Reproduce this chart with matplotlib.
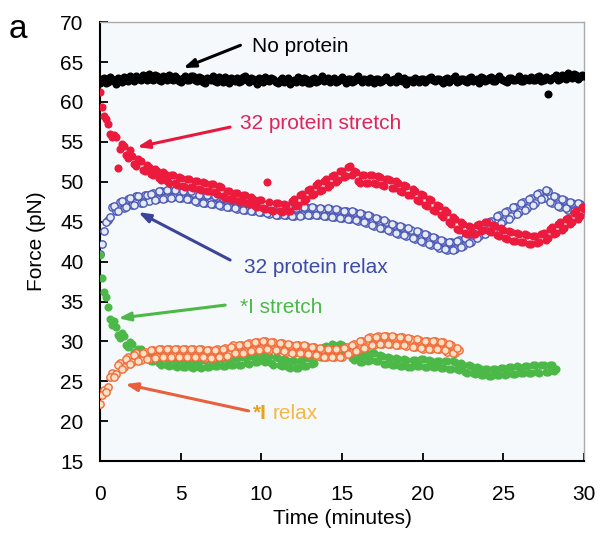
import numpy as np
import matplotlib
matplotlib.use("Agg")
import matplotlib.pyplot as plt

plt.rcParams['font.family'] = ['Liberation Sans', 'DejaVu Sans']

# readings every 0.25 min (starting at 0) and the in-between readings
# (starting at 0.125)
no_protein = [
    62.4, 63.0, 62.5, 62.9, 62.3, 62.8, 63.1, 62.6, 62.9, 63.3, 62.7, 63.2,
    63.5, 62.8, 63.2, 62.6, 63.1, 63.4, 62.7, 63.0, 62.5, 63.2, 62.8, 63.3,
    62.6, 63.0, 62.4, 62.9, 63.2, 62.5, 62.8, 63.1, 62.4, 62.9, 63.0, 62.6,
    63.2, 62.5, 62.9, 62.3, 62.8, 63.1, 62.6, 62.9, 62.4, 63.0, 62.7, 62.2,
    62.8, 63.1, 62.5, 62.9, 62.4, 63.0, 62.6, 63.2, 62.7, 62.5, 63.0, 62.6,
    63.1, 62.4, 62.9, 62.6, 63.2, 62.5, 62.8, 63.0, 62.4, 62.9, 62.6, 63.1,
    62.5, 62.9, 63.2, 62.6, 62.3, 62.8, 63.0, 62.5, 62.9, 62.7, 63.1, 62.6,
    62.9, 62.4, 63.0, 62.7, 63.2, 62.6, 62.9, 62.5, 63.1, 62.8, 62.4, 63.0,
    62.7, 63.1, 62.6, 63.3, 62.8, 62.5, 63.0, 62.7, 63.2, 62.6, 62.9, 63.1,
    62.8, 63.3, 62.7, 61.0, 63.0, 63.4, 62.9, 63.2, 63.6, 63.0, 63.4, 63.1,
    63.3]
no_protein_mid = [
    62.9, 62.4, 63.1, 62.6, 63.0, 62.5, 62.8, 63.2, 62.6, 62.9, 63.4, 62.8,
    62.9, 63.4, 62.7, 63.3, 62.8, 62.9, 63.3, 62.6, 63.0, 62.7, 63.2, 62.7,
    63.1, 62.5, 63.0, 62.7, 62.6, 63.1, 62.5, 62.7, 63.0, 62.6, 62.5, 63.1,
    62.7, 63.0, 62.6, 63.0, 62.5, 62.7, 63.0, 62.5, 62.8, 62.5, 63.0, 62.6,
    62.5, 62.7, 63.0, 62.4, 62.9, 62.5, 62.9, 62.6, 63.0, 62.8, 62.5, 62.9,
    62.7, 62.9, 62.5, 63.0, 62.7, 62.9, 62.5, 62.7, 62.9, 62.5, 62.9, 62.7,
    62.8, 62.5, 62.8, 63.0, 62.7, 62.5, 62.7, 62.9, 62.5, 63.0, 62.7, 62.9,
    62.6, 62.9, 62.5, 63.0, 62.5, 62.9, 62.6, 63.0, 62.6, 62.9, 63.1, 62.6,
    63.0, 62.6, 63.0, 62.9, 62.6, 63.0, 62.8, 62.9, 62.6, 63.0, 62.7, 62.8,
    63.1, 62.6, 63.1, 62.8, 63.1, 62.8, 63.4, 62.9, 63.2, 63.5, 62.9, 63.4]

p32_stretch = [
    61.2, 58.3, 57.2, 55.6, 55.6, 54.1, 54.5, 53.0, 53.2, 52.0, 52.6, 51.4,
    51.9, 50.8, 51.4, 50.2, 51.0, 49.9, 50.8, 49.6, 50.5, 49.4, 50.3, 49.2,
    50.1, 49.0, 49.8, 48.9, 49.7, 48.5, 49.3, 48.0, 48.8, 47.7, 48.6, 47.5,
    48.3, 47.2, 47.9, 46.8, 47.7, 46.6, 47.5, 46.4, 47.3, 46.2, 47.1, 46.3,
    47.8, 47.1, 48.5, 47.8, 49.1, 48.5, 49.8, 49.0, 50.3, 49.6, 50.9, 50.2,
    51.4, 50.7, 52.0, 51.3, 50.1, 50.9, 49.9, 50.8, 49.8, 50.7, 49.6, 50.4,
    50.2, 49.2, 49.9, 48.7, 49.5, 48.3, 48.9, 47.6, 48.3, 47.0, 47.7, 46.3,
    47.0, 45.6, 46.2, 44.7, 45.3, 44.0, 44.7, 43.5, 44.3, 43.4, 44.7, 43.9,
    45.0, 43.7, 44.5, 43.2, 44.0, 42.8, 43.7, 42.6, 43.5, 42.4, 43.3, 42.2,
    43.2, 42.4, 43.6, 42.9, 44.3, 43.6, 44.9, 44.2, 45.5, 44.9, 46.3, 45.7,
    46.6]
p32_stretch_mid = [
    59.4, 57.9, 56.0, 55.9, 51.7, 54.7, 53.3, 54.0, 52.2, 52.8, 51.5, 52.1,
    51.0, 51.6, 50.5, 51.2, 50.1, 50.8, 49.8, 50.6, 49.5, 50.3, 49.3, 50.1,
    49.1, 50.0, 48.9, 49.7, 48.7, 49.5, 48.2, 48.9, 47.8, 48.6, 47.6, 48.4,
    47.3, 48.1, 47.0, 47.7, 46.7, 50.0, 46.5, 47.4, 46.3, 47.2, 46.4, 47.6,
    47.0, 48.3, 47.6, 49.0, 48.3, 49.6, 48.9, 50.1, 49.4, 50.7, 50.0, 51.3,
    50.6, 51.9, 50.8, 51.2, 49.9, 50.9, 49.8, 50.8, 49.7, 50.6, 49.5, 50.3,
    49.2, 50.1, 48.8, 49.6, 48.3, 49.1, 47.7, 48.5, 47.1, 47.8, 46.5, 47.1,
    45.8, 46.5, 44.9, 45.6, 44.1, 44.9, 43.6, 44.5, 43.4, 44.6, 43.8, 45.0,
    43.8, 44.6, 43.3, 44.2, 42.9, 43.8, 42.6, 43.6, 42.4, 43.4, 42.2, 43.2,
    42.3, 43.5, 42.7, 44.1, 43.5, 44.7, 44.0, 45.3, 44.7, 46.1, 45.4, 46.9]

p32_relax = [
    41.0, 43.8, 45.2, 46.8, 46.3, 47.5, 46.7, 47.9, 47.1, 48.2, 47.4, 48.3,
    47.6, 48.6, 47.8, 48.9, 48.0, 49.0, 48.1, 48.9, 48.0, 48.9, 47.8, 48.6,
    47.5, 48.4, 47.3, 48.3, 47.2, 48.1, 47.0, 47.9, 46.8, 47.7, 46.6, 47.5,
    46.5, 47.4, 46.3, 47.2, 46.2, 47.1, 46.0, 46.9, 45.9, 46.8, 45.8, 46.7,
    45.7, 46.7, 45.8, 46.8, 45.9, 46.7, 45.8, 46.6, 45.7, 46.6, 45.6, 46.5,
    45.5, 46.4, 45.3, 46.2, 45.1, 46.0, 44.8, 45.7, 44.5, 45.3, 44.2, 45.0,
    43.8, 44.6, 43.5, 44.3, 43.2, 44.0, 42.8, 43.7, 42.5, 43.3, 42.1, 42.9,
    41.7, 42.6, 41.5, 42.5, 41.6, 42.7, 42.0, 43.2, 42.5, 43.8, 43.2, 44.5,
    43.8, 45.1, 44.5, 45.8, 45.1, 46.4, 45.7, 46.9, 46.2, 47.5, 46.7, 48.0,
    47.3, 48.6, 48.0, 48.9, 47.3, 48.1, 46.9, 47.7, 46.5, 47.4, 46.3, 47.2,
    46.8]
p32_relax_mid = [
    42.2, 45.0, 45.6, 47.0, 46.4, 47.6, 46.8, 48.0, 47.1, 48.2, 47.3, 48.4,
    48.5, 47.7, 48.8, 47.9, 49.0, 48.0, 49.0, 48.0, 48.9, 47.9, 48.8, 47.6,
    48.4, 47.4, 48.3, 47.2, 48.2, 47.1, 48.0, 46.9, 47.8, 46.7, 47.6, 46.5,
    47.5, 46.4, 47.3, 46.2, 47.2, 46.1, 47.0, 45.9, 46.9, 45.8, 46.8, 45.7,
    46.7, 45.7, 46.8, 45.8, 46.8, 45.8, 46.7, 45.7, 46.7, 45.6, 46.6, 45.5,
    46.4, 45.4, 46.3, 45.2, 46.1, 44.9, 45.8, 44.6, 45.5, 44.2, 45.2, 43.9,
    44.7, 43.6, 44.5, 43.3, 44.2, 42.9, 43.8, 42.6, 43.5, 42.2, 43.1, 41.9,
    42.7, 41.6, 42.5, 41.5, 42.6, 41.8, 43.0, 42.3, 43.6, 42.9, 44.3, 43.5,
    45.0, 44.0, 45.7, 44.8, 46.2, 45.4, 46.8, 46.0, 47.3, 46.5, 47.9, 47.1,
    48.5, 47.8, 49.0, 47.5, 48.2, 47.0, 47.8, 46.7, 47.5, 46.4, 47.3, 46.3]

i_stretch = [
    40.8, 36.2, 34.3, 32.1, 31.8, 30.4, 30.7, 29.3, 29.7, 28.4, 29.0, 27.9,
    28.5, 27.5, 28.2, 27.1, 27.9, 26.9, 27.8, 26.8, 27.7, 26.8, 27.6, 26.7,
    27.6, 26.7, 27.7, 26.8, 27.7, 26.9, 27.8, 26.9, 27.8, 27.0, 27.9, 27.0,
    28.0, 27.2, 28.2, 27.4, 28.4, 27.4, 28.2, 27.1, 27.9, 26.9, 27.7, 26.7,
    27.5, 26.7, 27.7, 26.9, 27.9, 27.3, 28.6, 28.1, 29.4, 28.6, 29.6, 28.8,
    29.6, 28.6, 28.9, 27.7, 28.2, 27.4, 28.4, 27.7, 28.6, 27.6, 28.2, 27.2,
    27.9, 27.0, 27.8, 26.9, 27.7, 26.8, 27.7, 26.9, 27.8, 26.8, 27.6, 26.8,
    27.6, 26.7, 27.5, 26.6, 27.4, 26.4, 27.1, 26.1, 26.9, 25.9, 26.7, 25.8,
    26.5, 25.7, 26.6, 25.8, 26.7, 25.9, 26.8, 25.9, 26.8, 26.0, 26.9, 26.1,
    27.0, 26.1, 27.0, 26.2, 27.0, 26.6]
i_stretch_mid = [
    38.0, 35.6, 32.8, 32.5, 30.8, 31.0, 29.6, 29.9, 28.7, 29.1, 28.0, 28.6,
    27.6, 28.3, 27.3, 28.0, 27.0, 27.8, 26.9, 27.7, 26.8, 27.6, 26.8, 27.6,
    26.8, 27.7, 26.8, 27.7, 26.9, 27.8, 26.9, 27.8, 27.0, 27.9, 27.1, 28.0,
    27.3, 28.2, 27.4, 28.3, 27.5, 28.3, 27.3, 28.1, 27.0, 27.8, 26.8, 27.6,
    26.7, 27.6, 26.9, 27.9, 27.2, 28.5, 28.0, 29.3, 28.6, 29.7, 28.8, 29.7,
    28.7, 29.3, 27.9, 28.4, 27.4, 28.3, 27.6, 28.6, 27.6, 28.3, 27.2, 28.0,
    27.0, 27.9, 26.9, 27.8, 26.8, 27.7, 26.9, 27.8, 26.8, 27.7, 26.8, 27.6,
    26.7, 27.6, 26.6, 27.5, 26.5, 27.3, 26.2, 27.0, 26.0, 26.8, 25.8, 26.6,
    25.7, 26.6, 25.8, 26.7, 25.8, 26.8, 25.9, 26.9, 26.0, 26.9, 26.1, 27.0,
    26.2, 27.1, 26.2, 27.0, 26.3]

i_relax = [
    22.2, 23.9, 24.3, 26.0, 25.9, 27.3, 26.8, 28.0, 27.4, 28.5, 27.7, 28.7,
    27.8, 28.9, 28.0, 29.1, 28.1, 29.1, 28.2, 29.1, 28.1, 29.0, 28.1, 29.0,
    28.0, 29.0, 27.9, 28.9, 27.9, 29.0, 28.1, 29.2, 28.4, 29.5, 28.5, 29.6,
    28.7, 29.8, 28.9, 29.9, 29.0, 30.1, 28.9, 29.9, 28.9, 29.8, 28.7, 29.6,
    28.5, 29.5, 28.5, 29.4, 28.4, 29.3, 28.2, 29.1, 28.0, 29.0, 28.0, 29.0,
    28.1, 29.3, 28.5, 29.7, 28.9, 30.1, 29.3, 30.5, 29.6, 30.7, 29.7, 30.7,
    29.7, 30.6, 29.5, 30.5, 29.4, 30.3, 29.3, 30.2, 29.1, 30.1, 29.0, 30.0,
    29.0, 29.9, 28.7, 29.6, 28.5, 28.9]
i_relax_mid = [
    23.3, 23.7, 25.6, 25.5, 27.0, 26.5, 27.8, 27.2, 28.3, 27.6, 28.6, 27.8,
    28.9, 27.9, 29.0, 28.0, 29.1, 28.1, 29.0, 28.0, 29.0, 28.1, 29.0, 28.0,
    29.0, 28.0, 28.9, 27.9, 28.9, 28.0, 29.1, 28.2, 29.3, 28.5, 29.5, 28.6,
    29.7, 28.8, 29.9, 28.9, 30.0, 29.0, 29.9, 28.9, 29.8, 28.8, 29.7, 28.6,
    29.5, 28.5, 29.5, 28.4, 29.3, 28.3, 29.2, 28.1, 29.0, 28.0, 29.0, 28.0,
    29.2, 28.4, 29.6, 28.8, 30.0, 29.2, 30.4, 29.5, 30.6, 29.7, 30.7, 29.7,
    30.7, 29.6, 30.5, 29.5, 30.4, 29.3, 30.3, 29.2, 30.1, 29.1, 30.0, 29.0,
    29.9, 28.9, 29.7, 28.6, 29.2]


def times(vals, start):
    return start + np.arange(len(vals)) * 0.25


fig = plt.figure(figsize=(6, 5.4), dpi=100)
ax = fig.add_axes([0.167, 0.146, 0.806, 0.813])
ax.set_facecolor('#f6f9fc')

filled = dict(s=34, lw=0)
hollow = dict(s=28, lw=1.0)

for vals, st in [(no_protein, 0), (no_protein_mid, 0.125)]:
    ax.scatter(times(vals, st), vals, color='black', zorder=3, **filled)
for vals, st in [(p32_relax, 0), (p32_relax_mid, 0.125)]:
    ax.scatter(times(vals, st), vals, facecolor='#e6eaf7', edgecolor='#4a58b4',
               zorder=3, **hollow)
for vals, st in [(p32_stretch, 0), (p32_stretch_mid, 0.125)]:
    ax.scatter(times(vals, st), vals, color='#ec1a3c', zorder=4, **filled)
for vals, st in [(i_stretch, 0), (i_stretch_mid, 0.125)]:
    ax.scatter(times(vals, st), vals, color='#4cb848', zorder=3, **filled)
for vals, st in [(i_relax, 0), (i_relax_mid, 0.125)]:
    ax.scatter(times(vals, st), vals, facecolor='#fbe1c4', edgecolor='#f26a3a',
               zorder=4, **hollow)

ax.set_xlim(0, 30)
ax.set_ylim(15, 70)
ax.set_xticks(range(0, 31, 5))
ax.set_yticks(range(15, 71, 5))
ax.tick_params(direction='in', length=6, width=1.3, labelsize=15)
ax.tick_params(axis='x', pad=17)
ax.tick_params(axis='y', pad=12)
for s in ['left', 'bottom']:
    ax.spines[s].set_linewidth(1.5)
for s in ['top', 'right']:
    ax.spines[s].set_color('#aaaaaa')
    ax.spines[s].set_linewidth(1.0)

ax.set_xlabel('Time (minutes)', fontsize=15, labelpad=4)
ax.set_ylabel('Force (pN)', fontsize=15, labelpad=10)


def arrow(tail, head, color):
    ax.annotate('', xy=head, xytext=tail, zorder=6,
                arrowprops=dict(arrowstyle='-|>,head_length=0.7,head_width=0.25',
                                color=color, lw=2.2, shrinkA=0, shrinkB=0))


arrow((8.7, 67.1), (5.15, 64.25), 'black')
ax.text(9.4, 66.9, 'No protein', fontsize=15, color='black', va='center')

arrow((8.06, 56.85), (2.29, 54.35), '#e8173c')
ax.text(8.7, 57.3, '32 protein stretch', fontsize=15, color='#e0245a', va='center')

arrow((8.06, 40.2), (2.36, 46.2), '#3a4499')
ax.text(8.9, 39.3, '32 protein relax', fontsize=15, color='#3c4aa8', va='center')

arrow((7.75, 34.55), (1.12, 32.9), '#4cb848')
ax.text(8.7, 34.2, '*I stretch', fontsize=15, color='#4cb848', va='center')

arrow((9.2, 21.3), (1.55, 24.65), '#e8603c')
ax.text(9.45, 21.0, '*I', fontsize=15, color='#e8a31c', va='center', fontweight='bold')
ax.text(10.7, 21.0, 'relax', fontsize=15, color='#f0b848', va='center')

fig.text(0.015, 0.975, 'a', fontsize=24, va='top', ha='left')

fig.savefig('out.png', dpi=100)
